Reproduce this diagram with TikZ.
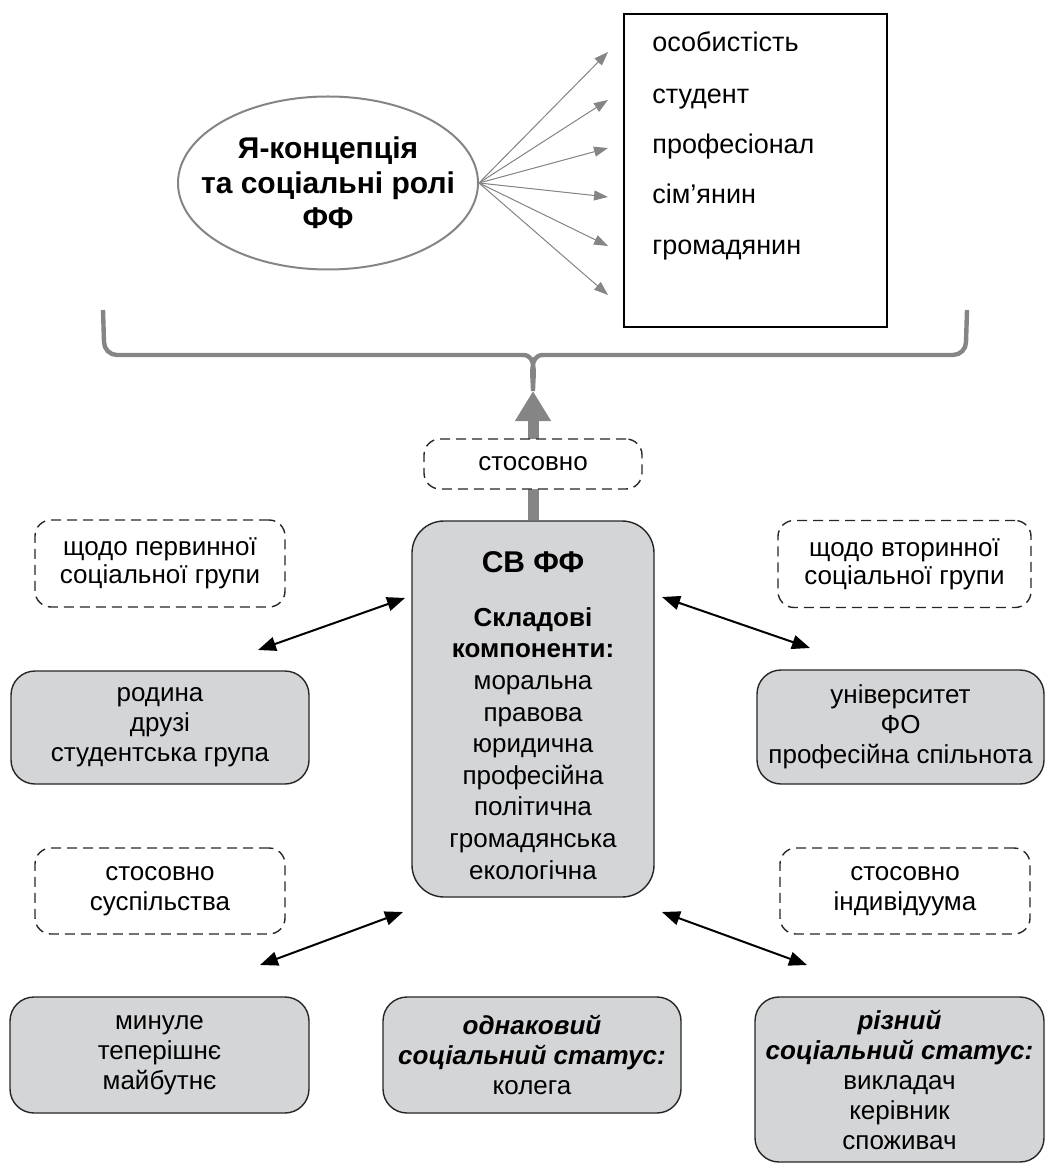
\documentclass[tikz,border=0pt]{standalone}
\usepackage{fontspec}
\setmainfont{Liberation Sans}
\usetikzlibrary{shapes.geometric,arrows.meta}
\definecolor{boxgrey}{HTML}{D4D5D7}
\definecolor{linegrey}{HTML}{858585}

\begin{document}
\begin{tikzpicture}[x=0.5pt,y=-0.5pt,
    every node/.style={font=\fontsize{13}{15}\selectfont},
    grey box/.style={draw=black!85,fill=boxgrey,rounded corners=12pt,line width=0.7pt,align=center,inner sep=0pt},
    hint box/.style={draw=black!85,dash pattern=on 5pt off 3pt,rounded corners=8pt,line width=0.7pt,align=center,inner sep=0pt},
    both arrow/.style={{Triangle[length=9pt,width=7pt]}-{Triangle[length=9pt,width=7pt]},line width=1pt},
    role arrow/.style={-{Triangle[length=7pt,width=5pt]},draw=linegrey,fill=linegrey,line width=0.5pt},
    big arrow/.style={-{Triangle[length=15pt,width=17pt]},draw=linegrey,fill=linegrey,line width=5.5pt},
    brace line/.style={draw=linegrey,line width=2.2pt},
    role text/.style={anchor=west,inner sep=0pt,text height=9.5pt,text depth=2.5pt,font=\fontsize{13.5}{16}\selectfont}]

    \useasboundingbox (0,0) rectangle (1046,1165);

    % Self-concept and roles
    \node[ellipse,draw=linegrey,line width=1pt,minimum width=150pt,minimum height=86.5pt] (ell) at (328,183) {};
    \node[align=center,inner sep=0pt,font=\bfseries\fontsize{15}{17.5}\selectfont] (ellt) at (ell.center)
          {Я-концепція\\та соціальні ролі\\ФФ};
    \node[draw,line width=1pt,minimum width=131.5pt,minimum height=156.5pt] (roles) at (755.5,170.5) {};
    \node[role text] (r1) at (652,45) {особистість};
    \node[role text] (r2) at (652,97) {студент};
    \node[role text] (r3) at (652,147) {професіонал};
    \node[role text] (r4) at (652,197) {сім’янин};
    \node[role text] (r5) at (652,248) {громадянин};
    \foreach \y [count=\i] in {52,100,148,197,246,295}
    {
        \coordinate (t\i) at (608,\y);
        \draw[role arrow] (ell.east) -- (t\i);
    }

    % Central box
    \node[grey box,minimum width=121pt,minimum height=188pt,rounded corners=16pt] (sv) at (533,709) {};
    \node[font=\bfseries\fontsize{15}{18}\selectfont] (svt) at (533,562) {СВ ФФ};
    \node[anchor=north,align=center,inner sep=0pt,font=\fontsize{13}{15.8}\selectfont] (svl) at (533,607)
        {\textbf{Складові}\\\textbf{компоненти:}\\моральна\\правова\\юридична\\професійна\\політична\\громадянська\\екологічна};

    % Brace and arrow up
    \coordinate (cusp) at (533,391);
    \draw[brace line] (103,310) -- (104,342) to[out=-90,in=180] (117,355) -- (523,355)
        to[out=0,in=90] (cusp) to[out=90,in=180] (543,355) -- (953,355)
        to[out=0,in=-90] (966,342) -- (967,310);
    \draw[big arrow] (sv.north) -- (cusp);
    \node[hint box,fill=white,minimum width=109pt,minimum height=25pt] (rel) at (533,464) {стосовно};

    % Upper side groups
    \node[hint box,minimum width=125pt,minimum height=43.5pt,font=\fontsize{13}{14}\selectfont] (d1) at (160,563.5) {щодо первинної\\соціальної групи};
    \node[hint box,minimum width=126.5pt,minimum height=43.5pt,font=\fontsize{13}{14}\selectfont] (d2) at (904.5,564) {щодо вторинної\\соціальної групи};
    \node[grey box,minimum width=149pt,minimum height=56.5pt] (g1) at (160,727.5) {родина\\друзі\\студентська група};
    \node[grey box,minimum width=143.5pt,minimum height=57pt] (g2) at (900.5,727) {університет\\ФО\\професійна спільнота};
    \coordinate (a1s) at (258,650);
    \coordinate (a1e) at (405,598);
    \coordinate (a2s) at (662,597);
    \coordinate (a2e) at (810,648);
    \draw[both arrow] (a1s) -- (a1e);
    \draw[both arrow] (a2s) -- (a2e);

    % Lower side groups
    \node[hint box,minimum width=125pt,minimum height=43pt] (d3) at (160,891) {стосовно\\суспільства};
    \node[hint box,minimum width=125pt,minimum height=43pt] (d4) at (905,891) {стосовно\\індивідуума};
    \coordinate (a3s) at (260,965);
    \coordinate (a3e) at (403,912);
    \coordinate (a4s) at (662,912);
    \coordinate (a4e) at (807,965);
    \draw[both arrow] (a3s) -- (a3e);
    \draw[both arrow] (a4s) -- (a4e);
    \node[grey box,minimum width=149.5pt,minimum height=58pt] (g3) at (159.5,1055) {минуле\\теперішнє\\майбутнє};
    \node[grey box,minimum width=149pt,minimum height=58pt] (g4) at (532,1055)
        {\textbf{\textit{однаковий}}\\\textbf{\textit{соціальний статус:}}\\колега};
    \node[grey box,minimum width=144.5pt,minimum height=82.5pt] (g5) at (899.5,1079.5)
        {\textbf{\textit{різний}}\\\textbf{\textit{соціальний статус:}}\\викладач\\керівник\\споживач};

\end{tikzpicture}
\end{document}
